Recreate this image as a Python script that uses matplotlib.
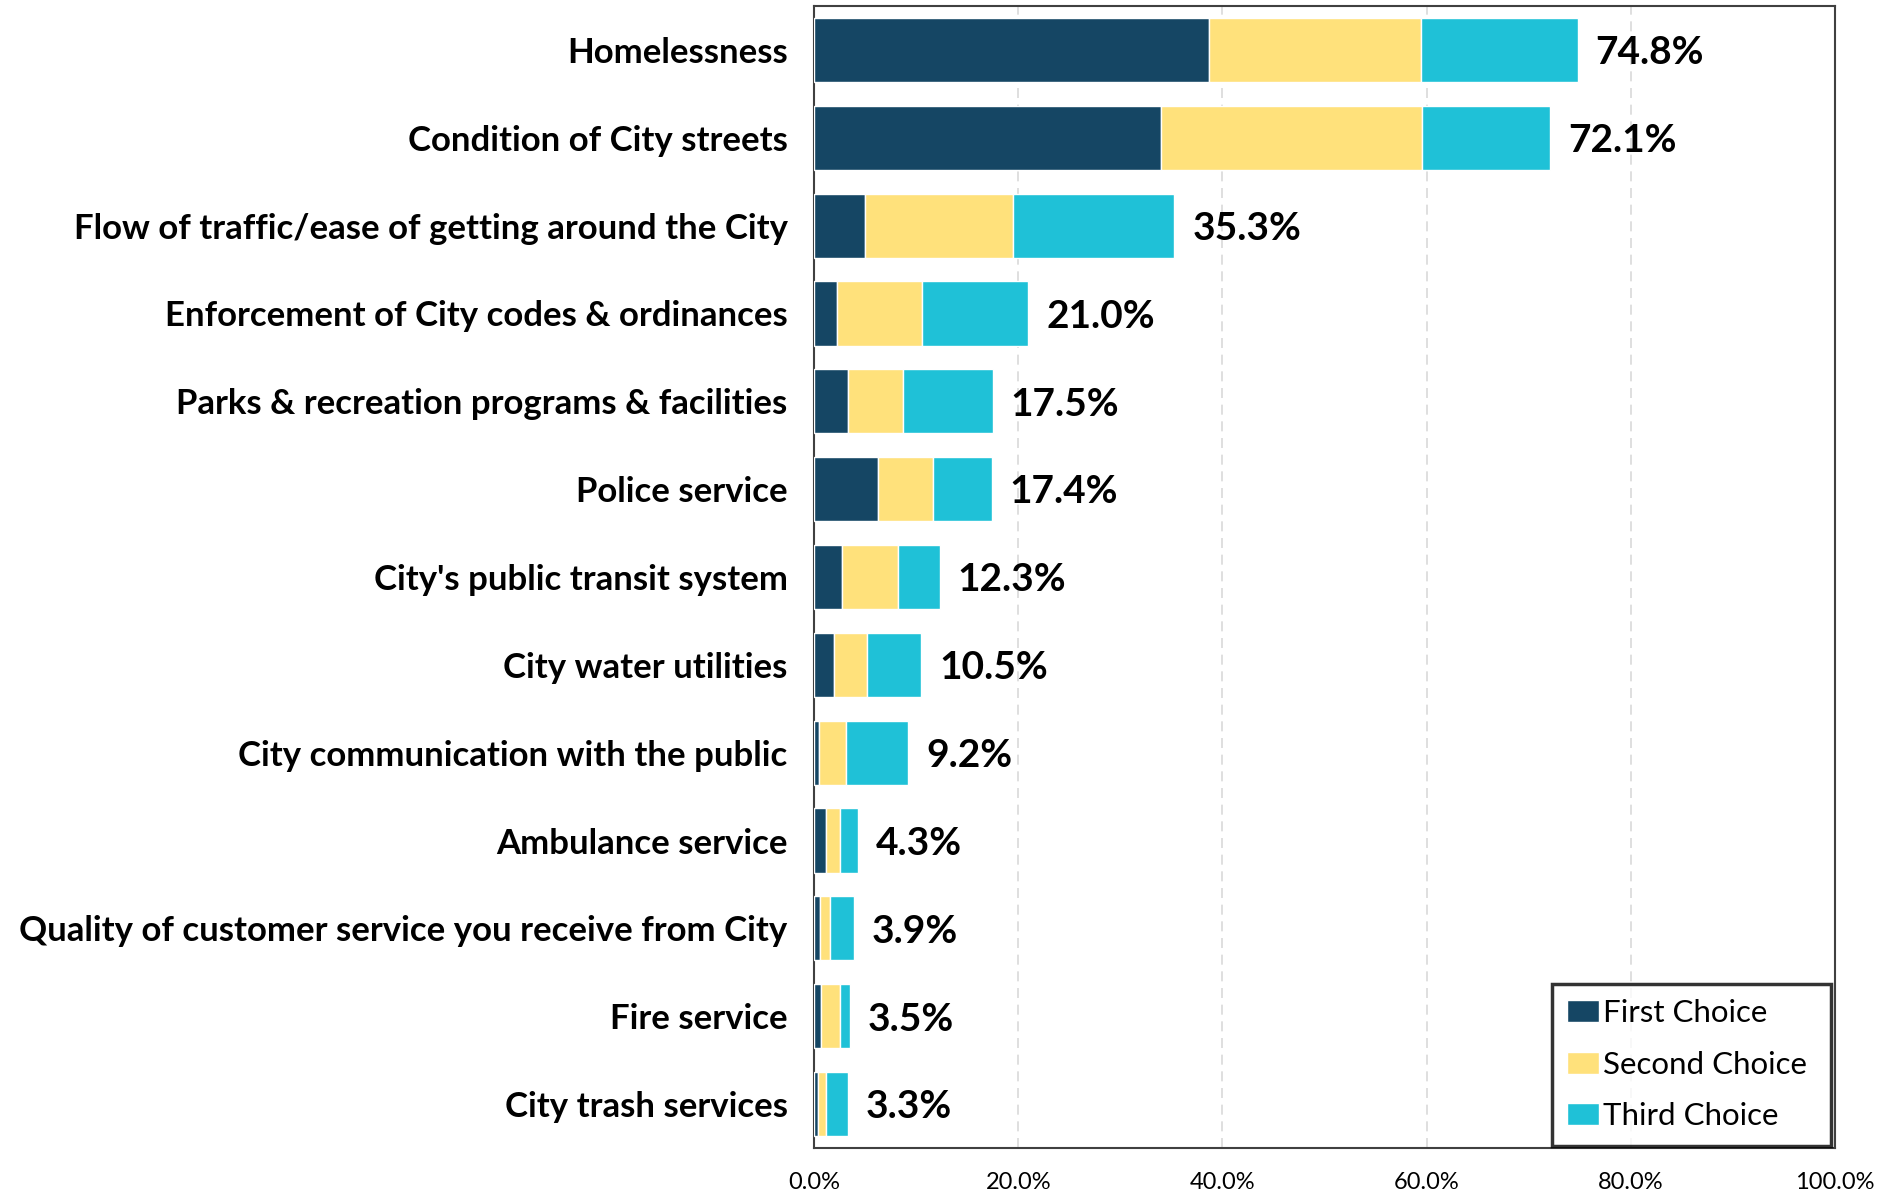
import matplotlib
matplotlib.use("Agg")
import matplotlib.pyplot as plt
import numpy as np

categories = [
    "Homelessness",
    "Condition of City streets",
    "Flow of traffic/ease of getting around the City",
    "Enforcement of City codes & ordinances",
    "Parks & recreation programs & facilities",
    "Police service",
    "City's public transit system",
    "City water utilities",
    "City communication with the public",
    "Ambulance service",
    "Quality of customer service you receive from City",
    "Fire service",
    "City trash services",
]
first_choice = [38.7, 34.0, 5.0, 2.3, 3.3, 6.3, 2.7, 2.0, 0.5, 1.2, 0.6, 0.7, 0.4]
second_choice = [20.8, 25.6, 14.5, 8.3, 5.4, 5.4, 5.5, 3.2, 2.6, 1.3, 1.0, 1.8, 0.8]
third_choice = [15.3, 12.5, 15.8, 10.4, 8.8, 5.7, 4.1, 5.3, 6.1, 1.8, 2.3, 1.0, 2.1]
totals = [74.8, 72.1, 35.3, 21.0, 17.5, 17.4, 12.3, 10.5, 9.2, 4.3, 3.9, 3.5, 3.3]
series_names = ["First Choice", "Second Choice", "Third Choice"]
x_ticks = [0, 20, 40, 60, 80, 100]

colors = ["#154664", "#FFE17B", "#1FC1D7"]

plt.rcParams['font.family'] = ['Lato', 'DejaVu Sans']

fig = plt.figure(figsize=(18.97, 11.95), dpi=100)
ax = fig.add_axes([0.4291, 0.0393, 0.9673 - 0.4291, 0.995 - 0.0393])

y = np.arange(len(categories))
f = np.array(first_choice)
s = np.array(second_choice)
t = np.array(third_choice)
h = 0.73
ax.barh(y, f, height=h, color=colors[0], edgecolor="white", linewidth=1, label=series_names[0], zorder=3)
ax.barh(y, s, left=f, height=h, color=colors[1], edgecolor="white", linewidth=1, label=series_names[1], zorder=3)
ax.barh(y, t, left=f + s, height=h, color=colors[2], edgecolor="white", linewidth=1, label=series_names[2], zorder=3)

for yi, (ff, ss, tt, tot) in enumerate(zip(f, s, t, totals)):
    ax.annotate(f"{tot:.1f}%", xy=(ff + ss + tt, yi), xytext=(13, -2), textcoords="offset points",
                ha="left", va="center", fontsize=28, fontweight="bold", color="black")

ax.set_xlim(0, 100)
ax.set_ylim(len(categories) - 0.5, -0.5)
ax.set_yticks(y)
ax.set_yticklabels(categories, fontsize=25, fontweight="bold")
ax.set_xticks(x_ticks)
ax.set_xticklabels([f"{v:.1f}%" for v in x_ticks], fontsize=17)
ax.tick_params(axis="y", length=0, pad=19)
ax.tick_params(axis="x", length=0, pad=17)

ax.xaxis.grid(True, color="#d9d9d9", linestyle=(0, (6, 4)), linewidth=1.2, zorder=0)
ax.set_axisbelow(True)
for sp in ax.spines.values():
    sp.set_color("#404040")
    sp.set_linewidth(1.5)

leg = ax.legend(loc="lower left", bbox_to_anchor=(0.7227, 0.002, 0.2737, 0.14), mode="expand",
                fontsize=22.5, frameon=True,
                fancybox=False, edgecolor="black", handlelength=1.0, handleheight=0.7,
                labelspacing=0.75, handletextpad=0.15, borderpad=0.5, borderaxespad=0)
leg.get_frame().set_linewidth(2.5)

fig.savefig("out.png", dpi=100)
